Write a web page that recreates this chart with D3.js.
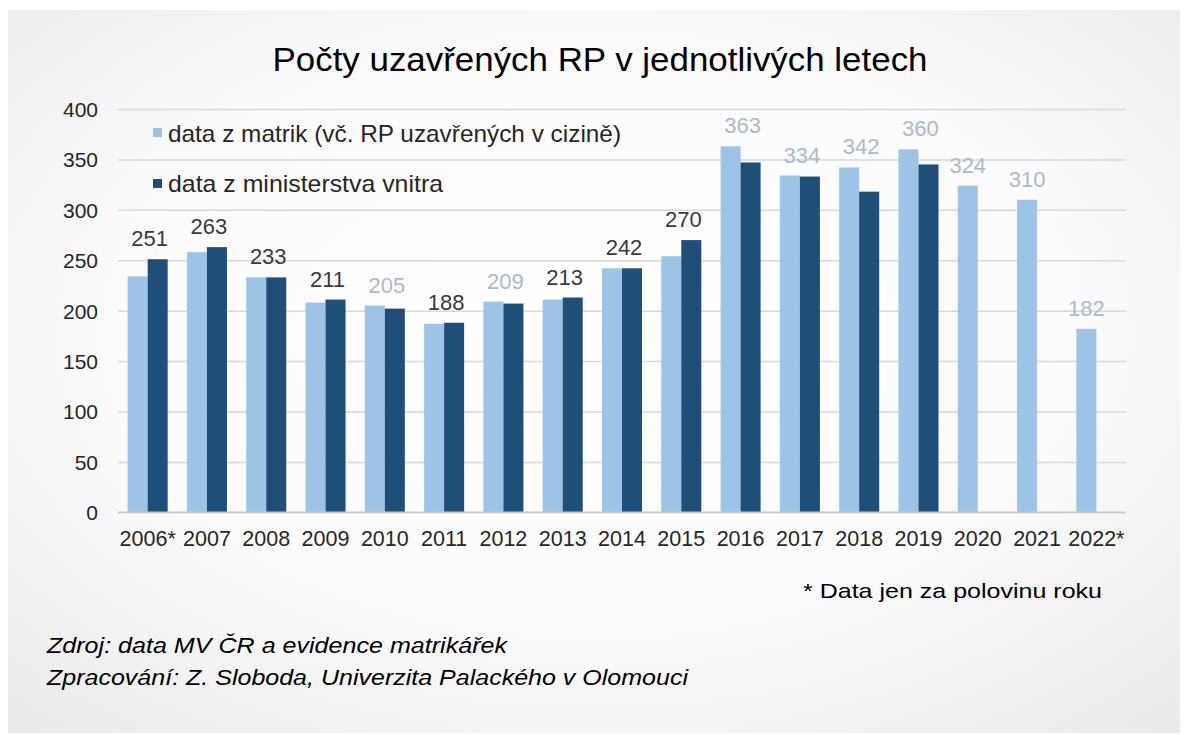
<!DOCTYPE html>
<html>
<head>
<meta charset="utf-8">
<script src="https://cdn.jsdelivr.net/npm/d3@7"></script>
<style>
  html, body { margin: 0; padding: 0; background: #ffffff; }
  svg { display: block; font-family: "Liberation Sans", Arial, sans-serif; }
</style>
</head>
<body>
<svg id="chart" width="1187" height="735"></svg>
<script>
// ---- data ----
const years = ["2006*", "2007", "2008", "2009", "2010", "2011", "2012", "2013", "2014",
               "2015", "2016", "2017", "2018", "2019", "2020", "2021", "2022*"];
const matrikValues = [234, 258, 233, 208, 205, 187, 209, 211, 242, 254, 363, 334, 342, 360, 324, 310, 182];
const mvValues     = [251, 263, 233, 211, 202, 188, 207, 213, 242, 270, 347, 333, 318, 345, null, null, null];
const yTicks = [0, 50, 100, 150, 200, 250, 300, 350, 400];
const seriesNames = ["data z matrik (vč. RP uzavřených v cizině)", "data z ministerstva vnitra"];
const titleText = "Počty uzavřených RP v jednotlivých letech";
const footnoteText = "* Data jen za polovinu roku";
const sourceLines = ["Zdroj: data MV ČR a evidence matrikářek",
                     "Zpracování: Z. Sloboda, Univerzita Palackého v Olomouci"];

// ---- styles ----
const lightColor = "#9dc3e6";
const darkColor = "#1f4e79";
const lightLabel = "#adb9ca";
const darkLabel = "#3a3a3a";
const gridColor = "#d9d9d9";

const svg = d3.select("#chart");

// background slide
const defs = svg.append("defs");
const grad = defs.append("radialGradient").attr("id", "bg")
  .attr("cx", "50%").attr("cy", "45%").attr("r", "75%");
grad.append("stop").attr("offset", "0%").attr("stop-color", "#ffffff");
grad.append("stop").attr("offset", "55%").attr("stop-color", "#fbfbfb");
grad.append("stop").attr("offset", "100%").attr("stop-color", "#e9e9e9");
svg.append("rect").attr("x", 8).attr("y", 10).attr("width", 1172).attr("height", 723)
  .attr("fill", "url(#bg)");

function fit(sel, w) {
  sel.attr("textLength", w).attr("lengthAdjust", "spacingAndGlyphs");
  return sel;
}

// title
fit(svg.append("text").attr("x", 600).attr("y", 71).attr("text-anchor", "middle")
  .attr("font-size", 33).attr("fill", "#000").text(titleText), 655);

// scales
const x0 = d3.scaleBand().domain(years).range([118, 1126])
  .paddingInner(0.325).paddingOuter(0.1625);
const x1 = d3.scaleBand().domain(["m", "v"]).range([0, x0.bandwidth()]);
const y = d3.scaleLinear().domain([0, 400]).range([512.3, 109]);

// gridlines
const yAxis = d3.axisLeft(y).tickValues(yTicks).tickSize(-(1126 - 118)).tickPadding(20);
const gy = svg.append("g").attr("transform", "translate(118,0)").call(yAxis);
gy.select(".domain").remove();
gy.selectAll(".tick line").attr("stroke", gridColor).attr("stroke-width", 1.5);
gy.selectAll(".tick text").attr("font-size", 21).attr("fill", "#262626")
  .attr("font-family", "Liberation Sans, Arial, sans-serif")
  .attr("x", 98 - 118).attr("dy", "0.35em");

// bars
const groups = svg.append("g").selectAll("g").data(years).join("g")
  .attr("transform", d => `translate(${x0(d)},0)`);

groups.append("rect")
  .attr("x", x1("m")).attr("width", x1.bandwidth())
  .attr("y", (d, i) => y(matrikValues[i]))
  .attr("height", (d, i) => y(0) - y(matrikValues[i]))
  .attr("fill", lightColor);

groups.filter((d, i) => mvValues[i] != null).append("rect")
  .attr("x", x1("v")).attr("width", x1.bandwidth())
  .attr("y", d => y(mvValues[years.indexOf(d)]))
  .attr("height", d => y(0) - y(mvValues[years.indexOf(d)]))
  .attr("fill", darkColor);

// axis baseline
svg.append("line").attr("x1", 118).attr("x2", 1126).attr("y1", y(0)).attr("y2", y(0))
  .attr("stroke", "#c8c8c8").attr("stroke-width", 1.5);

// x labels
const xAxis = d3.axisBottom(x0).tickSize(0).tickPadding(0);
const gx = svg.append("g").attr("transform", `translate(0,${y(0)})`).call(xAxis);
gx.select(".domain").remove();
gx.selectAll(".tick text").attr("font-size", 21.5).attr("fill", "#262626")
  .attr("font-family", "Liberation Sans, Arial, sans-serif")
  .attr("y", 34).attr("dy", 0);

// value labels
svg.append("g").selectAll("text").data(years).join("text")
  .attr("text-anchor", "middle")
  .attr("font-size", 22)
  .attr("x", (d, i) => mvValues[i] == null
      ? x0(d) + x1("m") + x1.bandwidth() / 2
      : x0(d) + x0.bandwidth() / 2 + 2)
  .attr("y", (d, i) => {
    const v = mvValues[i] == null ? matrikValues[i] : Math.max(matrikValues[i], mvValues[i]);
    return y(v) - 13;
  })
  .attr("fill", (d, i) => (mvValues[i] != null && mvValues[i] >= matrikValues[i]) ? darkLabel : lightLabel)
  .text((d, i) => mvValues[i] == null ? matrikValues[i] : Math.max(matrikValues[i], mvValues[i]));

// legend
const legendColors = [lightColor, darkColor];
const legendWidths = [453, 275];
const lg = svg.append("g").selectAll("g").data(seriesNames).join("g");
lg.append("rect").attr("x", 153).attr("y", (d, i) => 128 + i * 51)
  .attr("width", 9).attr("height", 9).attr("fill", (d, i) => legendColors[i]);
lg.append("text").attr("x", 168).attr("y", (d, i) => 141.5 + i * 50)
  .attr("font-size", 24).attr("fill", "#262626").text(d => d)
  .attr("textLength", (d, i) => legendWidths[i]).attr("lengthAdjust", "spacingAndGlyphs");

// footnote
fit(svg.append("text").attr("x", 1102).attr("y", 598).attr("text-anchor", "end")
  .attr("font-size", 21).attr("fill", "#000").text(footnoteText), 299);

// source
const srcWidths = [460, 641];
svg.append("g").selectAll("text").data(sourceLines).join("text")
  .attr("x", 47).attr("y", (d, i) => 653 + i * 32)
  .attr("font-size", 22).attr("font-style", "italic").attr("fill", "#000")
  .text(d => d)
  .attr("textLength", (d, i) => srcWidths[i]).attr("lengthAdjust", "spacingAndGlyphs");
</script>
</body>
</html>
